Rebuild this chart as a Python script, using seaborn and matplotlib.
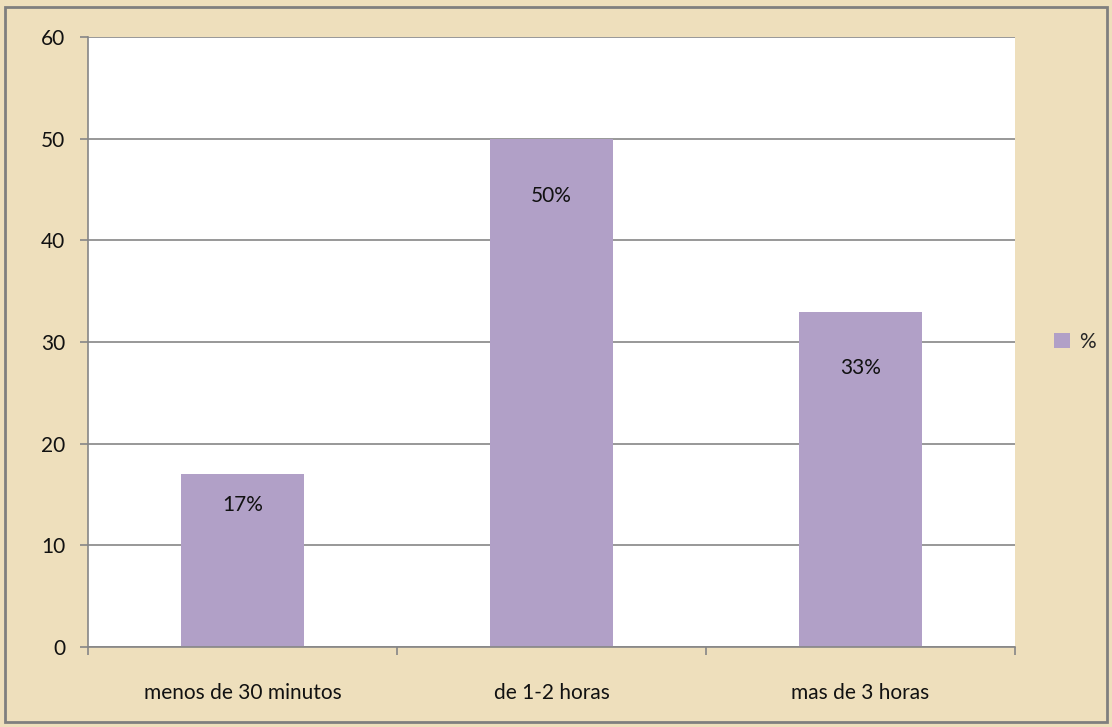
import numpy as np
import pandas as pd
import matplotlib.pyplot as plt
import seaborn as sns
from matplotlib.patches import Rectangle

categories = ["menos de 30 minutos", "de 1-2 horas", "mas de 3 horas"]
values = [17, 50, 33]
labels = ["17%", "50%", "33%"]
label_drop = [3.0, 5.6, 5.6]  # how far below the bar top each label sits
series_name = "%"

df = pd.DataFrame({"cat": categories, "val": values})

sns.set_theme(style="white")
plt.rcParams["font.family"] = ["Lato", "DejaVu Sans"]

bg = "#EEDFBC"
bar_color = "#B1A0C7"
fs = 15

fig = plt.figure(figsize=(11.12, 7.27), dpi=100, facecolor=bg)
ax = fig.add_axes([88 / 1112, 1 - 647 / 727, 927 / 1112, 610 / 727])
ax.set_facecolor("white")

sns.barplot(data=df, x="cat", y="val", color=bar_color, width=0.4,
            saturation=1, ax=ax, label=series_name, linewidth=0)

for i, (v, lab, d) in enumerate(zip(values, labels, label_drop)):
    ax.text(i, v - d, lab, ha="center", va="center", fontsize=fs, color="#111111")

ax.set_ylim(0, 60)
ax.set_xlim(-0.5, 2.5)
ax.set_yticks(range(0, 61, 10))
ax.yaxis.grid(True, color="#868686", linewidth=1.2)
ax.set_axisbelow(True)
ax.set_xlabel("")
ax.set_ylabel("")

for s in ["top", "right"]:
    ax.spines[s].set_visible(False)
for s in ["left", "bottom"]:
    ax.spines[s].set_color("#868686")
    ax.spines[s].set_linewidth(1.2)

ax.tick_params(axis="y", left=True, length=6, width=1.2, color="#868686",
               labelsize=fs, labelcolor="#111111", pad=10.5)
ax.set_xticks([-0.5, 0.5, 1.5, 2.5], minor=True)
ax.tick_params(axis="x", which="minor", bottom=True, length=6, width=1.2,
               color="#868686")
ax.tick_params(axis="x", which="major", bottom=False, labelsize=fs,
               labelcolor="#111111", pad=20)

leg = ax.legend(loc="center left", bbox_to_anchor=(1.022, 0.5), frameon=False,
                fontsize=fs, handlelength=0.75, handleheight=0.75,
                handletextpad=0.45)

fig.patches.append(Rectangle((5 / 1112, 5 / 727), 1102 / 1112, 715 / 727,
                             transform=fig.transFigure, fill=False,
                             edgecolor="#7F7F7F", linewidth=2))

fig.savefig("out.png", dpi=100, facecolor=bg)
